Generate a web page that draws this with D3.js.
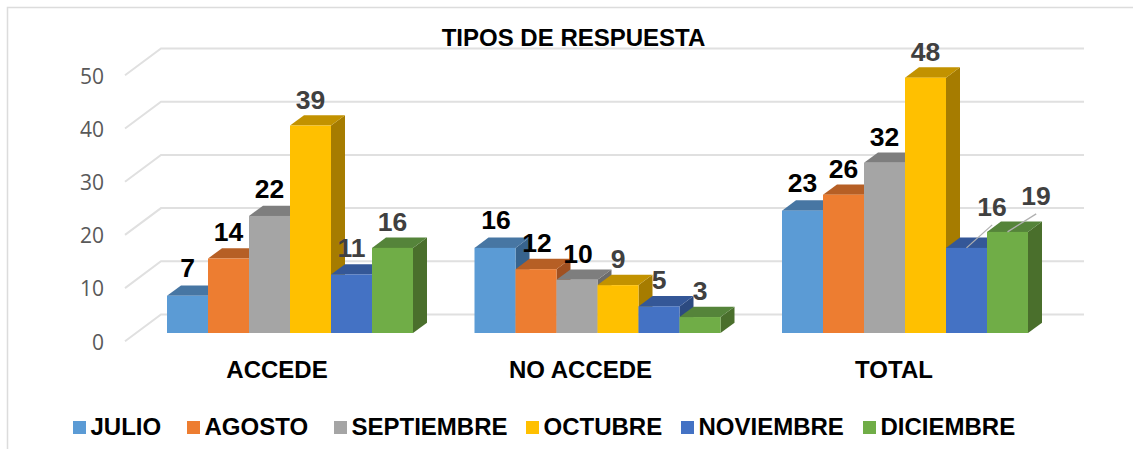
<!DOCTYPE html>
<html><head><meta charset="utf-8">
<script src="https://cdnjs.cloudflare.com/ajax/libs/d3/7.8.5/d3.min.js"></script>
<style>html,body{margin:0;padding:0;background:#fff}svg{display:block}text{font-family:"Liberation Sans",Arial,sans-serif}</style>
</head><body><svg id="c" width="1133" height="449"></svg>
<script>
const categories = ["ACCEDE","NO ACCEDE","TOTAL"];
const months = ["JULIO","AGOSTO","SEPTIEMBRE","OCTUBRE","NOVIEMBRE","DICIEMBRE"];
const julio = [7,16,23];
const agosto = [14,12,26];
const septiembre = [22,10,32];
const octubre = [39,9,48];
const noviembre = [11,5,16];
const diciembre = [16,3,19];
const seriesValues = [julio,agosto,septiembre,octubre,noviembre,diciembre];
const yTicks = [0,10,20,30,40,50];
const colors = ["#5b9bd5","#ed7d31","#a5a5a5","#ffc000","#4472c4","#70ad47"];
const topColors = ["#4776a3","#b65f25","#7e7e7e","#c29200","#345797","#55843a"];
const sideColors = ["#37638d","#a05020","#6c6c6c","#a67c00","#2c4a80","#4a6f2c"];

const svg = d3.select("#c");
const y = d3.scaleLinear().domain([0,50]).range([333,67]);
const x0 = d3.scalePoint().domain(categories).range([167,782]);
const x1 = d3.scaleBand().domain(months).range([0,246]);
const dx = 14, dy = 10.3;

svg.append("path").attr("d","M7.5,449V7.5H1133").attr("fill","none").attr("stroke","#dcdcdc").attr("stroke-width",1.5);

yTicks.forEach(t=>{
  const yb = y(t) - 18.5;
  svg.append("path").attr("d",`M125,${yb+26.8}L161,${yb}H1084`).attr("fill","none").attr("stroke","#e0e0e0").attr("stroke-width",2);
  svg.append("text").attr("x",104).attr("y",y(t)+16.5).attr("text-anchor","end").attr("font-size",21).attr("fill","#595959").style("font-family","'Open Sans','Liberation Sans',sans-serif").text(t);
});

const catLabelOffset = [110,106,112];
categories.forEach((cat,ci)=>{
  const g = svg.append("g");
  months.forEach((m,si)=>{
    const v = seriesValues[si][ci];
    const x = x0(cat)+x1(m), w = x1.bandwidth(), yt = y(v), yb = y(0);
    g.append("path").attr("d",`M${x+w},${yb}L${x+w+dx},${yb-dy}V${yt-dy}L${x+w},${yt}Z`).attr("fill",sideColors[si]);
    g.append("path").attr("d",`M${x},${yt}L${x+dx},${yt-dy}H${x+w+dx}L${x+w},${yt}Z`).attr("fill",topColors[si]);
    g.append("rect").attr("x",x).attr("y",yt).attr("width",w).attr("height",yb-yt).attr("fill",colors[si]);
  });
  g.append("text").attr("x",x0(cat)+catLabelOffset[ci]).attr("y",377.5).attr("text-anchor","middle").attr("font-size",24).attr("font-weight","bold").attr("fill","#000").text(cat);
});

const dark="#404040", blk="#000";
const labelSpec = [
 [0,0,0,277,blk],[1,0,0,241,blk],[2,0,0,198,blk],[3,0,0,109,dark],[4,0,0,257,dark],[5,0,0,231,dark],
 [0,1,1,229,blk],[1,1,1,252,blk],[2,1,1,263,blk],[3,1,0,268,dark],[4,1,0,289,dark],[5,1,0,300,dark],
 [0,2,0,192,blk],[1,2,0,178,blk],[2,2,0,146,blk],[3,2,0,61,dark],[4,2,25.5,216,dark],[5,2,28.5,205,dark]
];
labelSpec.forEach(([s,c,off,by,col])=>{
  svg.append("text").attr("x",x0(categories[c])+x1(months[s])+x1.bandwidth()/2+off)
   .attr("y",by).attr("text-anchor","middle").attr("font-size",26.5).attr("font-weight","bold").attr("fill",col)
   .text(seriesValues[s][c]);
});
[[4,2,0,0,25.7,-23],[5,2,0,0,28.7,-18]].forEach(([s,c,a,b,p,q])=>{
  const xc = x0(categories[c])+x1(months[s])+x1.bandwidth()/2, yc = y(seriesValues[s][c]);
  svg.append("line").attr("x1",xc+a).attr("y1",yc+b).attr("x2",xc+a+p).attr("y2",yc+b+q).attr("stroke","#b0b0b0").attr("stroke-width",1.3);
});

svg.append("text").attr("x",573.5).attr("y",46).attr("text-anchor","middle").attr("font-size",24).attr("font-weight","bold").attr("fill","#000").text("TIPOS DE RESPUESTA");

const legendPos = [73,187,334,526,681,863];
months.forEach((m,i)=>{
  svg.append("rect").attr("x",legendPos[i]).attr("y",421).attr("width",13).attr("height",13).attr("fill",colors[i]);
  svg.append("text").attr("x",legendPos[i]+17.5).attr("y",434.5).attr("font-size",24).attr("font-weight","bold").attr("fill","#000").text(m);
});
</script></body></html>
